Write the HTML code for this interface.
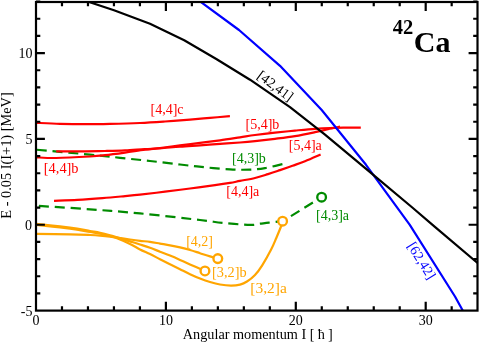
<!DOCTYPE html>
<html><head><meta charset="utf-8"><title>42Ca</title>
<style>html,body{margin:0;padding:0;background:#fff;}body{width:480px;height:343px;position:relative;overflow:hidden;font-family:"Liberation Serif",serif;}</style>
</head><body>
<svg width="480" height="343" viewBox="0 0 480 343" style="position:absolute;left:0;top:0;will-change:transform;opacity:0.999">
<defs><clipPath id="c"><rect x="36" y="2" width="441.5" height="308.6"/></clipPath></defs>
<g clip-path="url(#c)" fill="none" stroke-width="2.2" stroke-linecap="butt" stroke-linejoin="round">
<path d="M36.00,122.80 C40.00,122.97 51.83,123.57 60.00,123.80 C68.17,124.03 76.67,124.18 85.00,124.20 C93.33,124.22 100.83,124.10 110.00,123.90 C119.17,123.70 130.83,123.40 140.00,123.00 C149.17,122.60 156.67,122.07 165.00,121.50 C173.33,120.93 182.50,120.20 190.00,119.60 C197.50,119.00 203.35,118.48 210.00,117.90 C216.65,117.32 226.58,116.40 229.90,116.10" stroke="#ff0000"/>
<path d="M54.00,200.80 C57.92,200.63 69.42,200.25 77.50,199.80 C85.58,199.35 94.87,198.68 102.50,198.10 C110.13,197.52 117.05,196.87 123.30,196.30 C129.55,195.73 133.05,195.47 140.00,194.70 C146.95,193.93 156.67,192.73 165.00,191.70 C173.33,190.67 181.67,189.58 190.00,188.50 C198.33,187.42 208.33,186.13 215.00,185.20 C221.67,184.27 225.83,183.62 230.00,182.90 C234.17,182.18 235.83,181.72 240.00,180.90 C244.17,180.08 250.33,179.13 255.00,178.00 C259.67,176.87 263.83,175.42 268.00,174.10 C272.17,172.78 275.92,171.48 280.00,170.10 C284.08,168.72 288.33,167.27 292.50,165.80 C296.67,164.33 300.32,163.17 305.00,161.30 C309.68,159.43 318.00,155.72 320.60,154.60" stroke="#ff0000"/>
<path d="M36.00,149.70 C45.00,150.52 76.00,153.25 90.00,154.60 C104.00,155.95 110.00,156.73 120.00,157.80 C130.00,158.87 140.00,159.88 150.00,161.00 C160.00,162.12 170.83,163.45 180.00,164.50 C189.17,165.55 196.67,166.48 205.00,167.30 C213.33,168.12 222.50,169.02 230.00,169.40 C237.50,169.78 244.17,169.82 250.00,169.60 C255.83,169.38 259.50,169.03 265.00,168.10 C270.50,167.17 280.00,164.68 283.00,164.00" stroke="#008b00" stroke-dasharray="10 5.8" stroke-dashoffset="15"/>
<path d="M36.00,205.75 C45.00,206.34 72.67,208.03 90.00,209.30 C107.33,210.58 121.67,211.62 140.00,213.40 C158.33,215.18 186.25,218.42 200.00,220.00 C213.75,221.58 214.17,222.08 222.50,222.90 C230.83,223.72 243.75,224.77 250.00,224.90 C256.25,225.03 256.83,224.08 260.00,223.70 C263.17,223.32 265.23,223.02 269.00,222.60 C272.77,222.18 280.33,221.43 282.60,221.20" stroke="#008b00" stroke-dasharray="10 5.85" stroke-dashoffset="12.85"/>
<path d="M282.60,221.20 L321.60,197.20" stroke="#008b00" stroke-dasharray="10 5.8" stroke-dashoffset="6"/>
<path d="M36.00,157.30 C39.33,157.42 47.00,158.13 56.00,158.00 C65.00,157.87 81.83,156.97 90.00,156.50 C98.17,156.03 99.17,155.85 105.00,155.20 C110.83,154.55 118.33,153.52 125.00,152.60 C131.67,151.68 139.17,150.47 145.00,149.70 C150.83,148.93 154.17,148.73 160.00,148.00 C165.83,147.27 173.33,146.15 180.00,145.30 C186.67,144.45 193.33,143.73 200.00,142.90 C206.67,142.07 213.33,141.23 220.00,140.30 C226.67,139.37 234.17,138.18 240.00,137.30 C245.83,136.42 249.17,135.78 255.00,135.00 C260.83,134.22 268.33,133.33 275.00,132.60 C281.67,131.87 288.33,131.23 295.00,130.60 C301.67,129.97 309.17,129.23 315.00,128.80 C320.83,128.37 325.00,128.18 330.00,128.00 C335.00,127.82 339.87,127.77 345.00,127.70 C350.13,127.63 358.17,127.62 360.80,127.60" stroke="#ff0000"/>
<path d="M56.20,151.40 C61.00,151.38 76.87,151.37 85.00,151.30 C93.13,151.23 98.33,151.15 105.00,151.00 C111.67,150.85 118.33,150.72 125.00,150.40 C131.67,150.08 139.17,149.43 145.00,149.10 C150.83,148.77 154.17,148.82 160.00,148.40 C165.83,147.98 173.33,147.12 180.00,146.60 C186.67,146.08 193.33,145.75 200.00,145.30 C206.67,144.85 213.33,144.37 220.00,143.90 C226.67,143.43 234.17,142.97 240.00,142.50 C245.83,142.03 249.17,141.72 255.00,141.10 C260.83,140.48 268.33,139.63 275.00,138.80 C281.67,137.97 288.33,137.20 295.00,136.10 C301.67,135.00 309.50,133.35 315.00,132.20 C320.50,131.05 323.83,130.12 328.00,129.20 C332.17,128.28 338.00,127.12 340.00,126.70" stroke="#ff0000"/>
<path d="M36.00,233.80 C41.67,233.88 61.00,234.10 70.00,234.30 C79.00,234.50 85.00,234.78 90.00,235.00 C95.00,235.22 96.67,235.33 100.00,235.60 C103.33,235.87 107.17,236.25 110.00,236.60 C112.83,236.95 113.67,237.22 117.00,237.70 C120.33,238.18 126.17,238.98 130.00,239.50 C133.83,240.02 136.67,240.40 140.00,240.80 C143.33,241.20 146.67,241.43 150.00,241.90 C153.33,242.37 156.67,243.03 160.00,243.60 C163.33,244.17 166.67,244.67 170.00,245.30 C173.33,245.93 176.67,246.62 180.00,247.40 C183.33,248.18 186.67,249.03 190.00,250.00 C193.33,250.97 196.67,252.13 200.00,253.20 C203.33,254.27 207.03,255.50 210.00,256.40 C212.97,257.30 216.50,258.23 217.80,258.60" stroke="#ffa500"/>
<path d="M36.00,223.90 C41.67,224.52 61.00,226.42 70.00,227.60 C79.00,228.78 85.00,230.13 90.00,231.00 C95.00,231.87 96.67,232.08 100.00,232.80 C103.33,233.52 107.17,234.53 110.00,235.30 C112.83,236.07 113.67,236.38 117.00,237.40 C120.33,238.42 126.17,240.22 130.00,241.40 C133.83,242.58 136.67,243.43 140.00,244.50 C143.33,245.57 146.67,246.60 150.00,247.80 C153.33,249.00 156.67,250.40 160.00,251.70 C163.33,253.00 166.67,254.23 170.00,255.60 C173.33,256.97 176.67,258.43 180.00,259.90 C183.33,261.37 185.84,262.56 190.00,264.40 C194.16,266.24 202.46,269.86 204.95,270.95" stroke="#ffa500"/>
<path d="M36.00,225.00 C41.67,225.62 61.00,227.53 70.00,228.70 C79.00,229.87 85.00,231.17 90.00,232.00 C95.00,232.83 96.67,233.03 100.00,233.70 C103.33,234.37 107.17,235.25 110.00,236.00 C112.83,236.75 113.67,236.88 117.00,238.20 C120.33,239.52 126.17,242.03 130.00,243.90 C133.83,245.77 136.67,247.70 140.00,249.40 C143.33,251.10 146.67,252.47 150.00,254.10 C153.33,255.73 156.67,257.52 160.00,259.20 C163.33,260.88 166.67,262.53 170.00,264.20 C173.33,265.87 176.67,267.53 180.00,269.20 C183.33,270.87 186.67,272.65 190.00,274.20 C193.33,275.75 196.67,277.20 200.00,278.50 C203.33,279.80 206.67,281.00 210.00,282.00 C213.33,283.00 216.50,283.90 220.00,284.50 C223.50,285.10 227.67,285.58 231.00,285.60 C234.33,285.62 237.33,285.28 240.00,284.60 C242.67,283.92 244.50,283.10 247.00,281.50 C249.50,279.90 252.47,277.70 255.00,275.00 C257.53,272.30 259.53,269.50 262.20,265.30 C264.87,261.10 268.67,254.32 271.00,249.80 C273.33,245.28 274.50,242.17 276.20,238.20 C277.90,234.23 280.13,228.83 281.20,226.00 C282.27,223.17 282.37,222.00 282.60,221.20" stroke="#ffa500"/>
<path d="M199.50,1.00 L239.00,30.00 L280.00,65.80 L321.70,110.00 L366.00,164.80 L409.80,224.80 L455.00,296.50 L463.00,311.00" stroke="#0000ff"/>
<path d="M86.00,1.00 L114.00,10.30 L150.00,23.70 L184.20,40.30 L216.70,59.20 L250.00,79.70 L290.00,107.20 L325.00,134.60 L373.30,174.90 L411.70,207.00 L434.60,226.70 L479.00,264.20" stroke="#000"/>
</g>
<g fill="#fff" stroke-width="2.35">
<circle cx="217.8" cy="258.6" r="4.35" stroke="#ffa500"/>
<circle cx="204.95" cy="270.95" r="4.35" stroke="#ffa500"/>
<circle cx="321.6" cy="197.2" r="4.35" stroke="#008b00"/>
<circle cx="282.6" cy="221.2" r="4.35" stroke="#ffa500"/>
</g>
<g stroke="#000" stroke-width="2.2" fill="none" stroke-linecap="butt">
<rect x="36" y="2" width="441.5" height="308.6"/>
<path d="M61.98,2 v4.3 M61.98,310.6 v-4.3"/>
<path d="M87.96,2 v4.3 M87.96,310.6 v-4.3"/>
<path d="M113.94,2 v4.3 M113.94,310.6 v-4.3"/>
<path d="M139.92,2 v4.3 M139.92,310.6 v-4.3"/>
<path d="M165.90,2 v8.9 M165.90,310.6 v-8.9"/>
<path d="M191.88,2 v4.3 M191.88,310.6 v-4.3"/>
<path d="M217.86,2 v4.3 M217.86,310.6 v-4.3"/>
<path d="M243.84,2 v4.3 M243.84,310.6 v-4.3"/>
<path d="M269.82,2 v4.3 M269.82,310.6 v-4.3"/>
<path d="M295.80,2 v8.9 M295.80,310.6 v-8.9"/>
<path d="M321.78,2 v4.3 M321.78,310.6 v-4.3"/>
<path d="M347.76,2 v4.3 M347.76,310.6 v-4.3"/>
<path d="M373.74,2 v4.3 M373.74,310.6 v-4.3"/>
<path d="M399.72,2 v4.3 M399.72,310.6 v-4.3"/>
<path d="M425.70,2 v8.9 M425.70,310.6 v-8.9"/>
<path d="M451.68,2 v4.3 M451.68,310.6 v-4.3"/>
<path d="M36,293.44 h4.3 M477.5,293.44 h-4.3"/>
<path d="M36,276.27 h4.3 M477.5,276.27 h-4.3"/>
<path d="M36,259.10 h4.3 M477.5,259.10 h-4.3"/>
<path d="M36,241.94 h4.3 M477.5,241.94 h-4.3"/>
<path d="M36,224.77 h8.9 M477.5,224.77 h-8.9"/>
<path d="M36,207.60 h4.3 M477.5,207.60 h-4.3"/>
<path d="M36,190.44 h4.3 M477.5,190.44 h-4.3"/>
<path d="M36,173.27 h4.3 M477.5,173.27 h-4.3"/>
<path d="M36,156.10 h4.3 M477.5,156.10 h-4.3"/>
<path d="M36,138.94 h8.9 M477.5,138.94 h-8.9"/>
<path d="M36,121.77 h4.3 M477.5,121.77 h-4.3"/>
<path d="M36,104.60 h4.3 M477.5,104.60 h-4.3"/>
<path d="M36,87.43 h4.3 M477.5,87.43 h-4.3"/>
<path d="M36,70.27 h4.3 M477.5,70.27 h-4.3"/>
<path d="M36,53.10 h8.9 M477.5,53.10 h-8.9"/>
<path d="M36,35.93 h4.3 M477.5,35.93 h-4.3"/>
<path d="M36,18.77 h4.3 M477.5,18.77 h-4.3"/>
<path d="M36,1.60 h4.3 M477.5,1.60 h-4.3"/>
</g>
<g font-family="'Liberation Serif', serif" font-size="14px" fill="#000">
<text x="36.00" y="325" text-anchor="middle">0</text>
<text x="165.90" y="325" text-anchor="middle">10</text>
<text x="295.80" y="325" text-anchor="middle">20</text>
<text x="425.70" y="325" text-anchor="middle">30</text>
<text x="32.5" y="316" text-anchor="end">-5</text>
<text x="32.1" y="230" text-anchor="end">0</text>
<text x="32.4" y="144" text-anchor="end">5</text>
<text x="32.5" y="58" text-anchor="end">10</text>
<text x="182.8" y="338.5" font-size="14.24px">Angular momentum I [ <tspan dx="-0.3">ħ </tspan><tspan dx="-0.5">]</tspan></text>
<text transform="translate(11.2,155.5) rotate(-90)" text-anchor="middle" font-size="14.35px">E - 0.05 I(I+1) [MeV]</text>
<text x="150.5" y="114" fill="#ff0000">[4,4]c</text>
<text x="245.5" y="129" fill="#ff0000">[5,4]b</text>
<text x="288.8" y="150" fill="#ff0000">[5,4]a</text>
<text x="43.8" y="173" font-size="14.4px" fill="#ff0000">[4,4]b</text>
<text x="226.3" y="196.3" fill="#ff0000">[4,4]a</text>
<text x="232" y="162.5" fill="#008b00">[4,3]b</text>
<text x="316" y="219.8" fill="#008b00">[4,3]a</text>
<text x="186.2" y="246" fill="#ffa500">[4,2]</text>
<text x="212.1" y="277" font-size="14.3px" fill="#ffa500">[3,2]b</text>
<text x="250.25" y="293" textLength="36.5" lengthAdjust="spacingAndGlyphs" fill="#ffa500">[3,2]a</text>
<text transform="translate(256.3,77.6) rotate(36.5)" fill="#000">[42,41]</text>
<text transform="translate(406.9,245.8) rotate(58)" fill="#0000ff">[62,42]</text>
<text x="413.8" y="52.3" font-size="30px" font-weight="bold">Ca</text>
<text x="392.7" y="34" font-size="20.5px" font-weight="bold">42</text>
</g>
</svg>
</body></html>
